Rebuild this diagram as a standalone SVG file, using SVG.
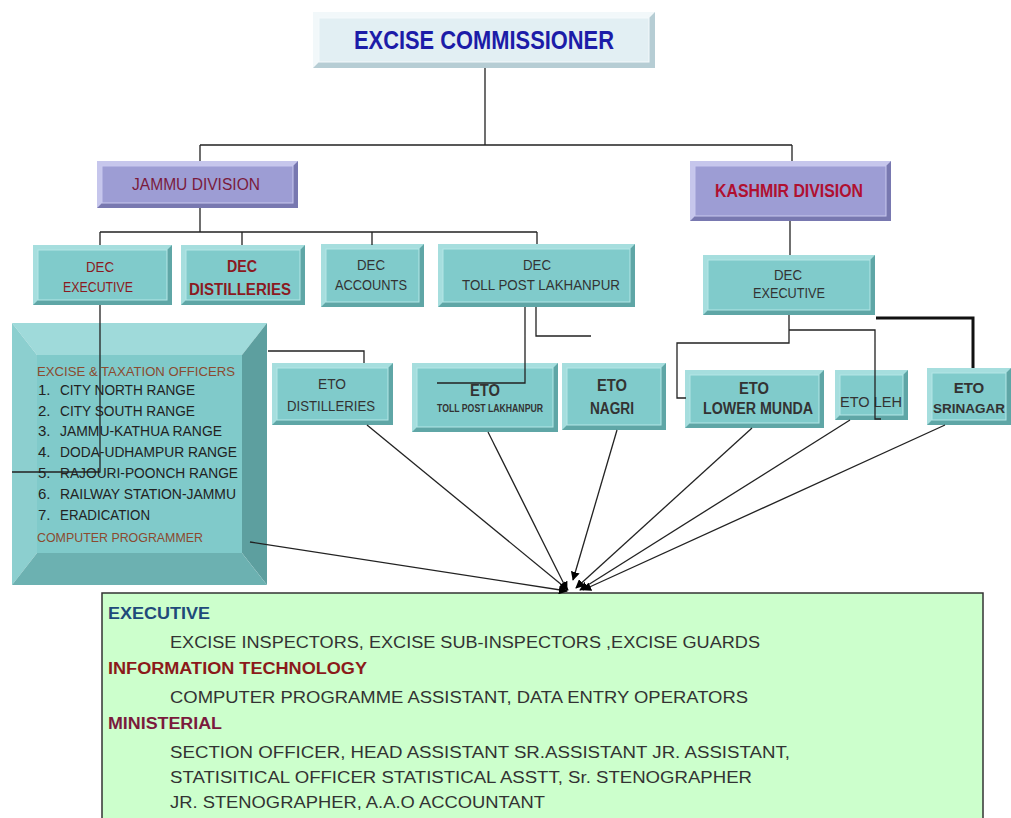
<svg xmlns="http://www.w3.org/2000/svg" width="1011" height="818" viewBox="0 0 1011 818">
<style>
text{font-family:"Liberation Sans",Arial,sans-serif;text-anchor:middle}
.tb{fill:#5fa6a6}.tl{fill:#a6dede}.tf{fill:#80cbcb;stroke:#b4e6e6;stroke-width:1}
.lb{fill:#7878b0}.ll{fill:#c6c6ec}.lf{fill:#9d9dd4;stroke:#c8c8ee;stroke-width:1}
.cb{fill:#b6cdd4}.cl{fill:#f2f8fa}.cf{fill:#e2eff3;stroke:#f4f9fb;stroke-width:1}
.dr{fill:#8b1a22}.dk{fill:#333}.bd{font-weight:bold}
.ln{fill:none;stroke:#222;stroke-width:1.3}
.body{font-size:16px;fill:#333;text-anchor:start}
.lst{font-size:15px;fill:#222;text-anchor:start}
</style>
<defs>
<marker id="ah" viewBox="0 0 10 10" refX="9" refY="5" markerWidth="9" markerHeight="9" markerUnits="userSpaceOnUse" orient="auto">
<path d="M0,0 L10,5 L0,10 z" fill="#000"/>
</marker>
</defs>
<rect width="1011" height="818" fill="#fff"/>

<g id="commissioner">
<rect class="cb" x="313" y="12" width="342" height="56"/>
<polygon class="cl" points="313,12 655,12 649,18 319,18 319,62 313,68"/>
<rect class="cf" x="319" y="18" width="330" height="44"/>
<text x="484" y="49" font-size="26" font-weight="bold" fill="#1c1ca8" textLength="260" lengthAdjust="spacingAndGlyphs">EXCISE COMMISSIONER</text>
</g>

<g id="jammu-division">
<rect class="lb" x="97" y="161" width="201" height="47"/>
<polygon class="ll" points="97,161 298,161 293,166 102,166 102,203 97,208"/>
<rect class="lf" x="102" y="166" width="191" height="37"/>
<text x="196" y="190" font-size="16" fill="#7a1a3c" textLength="128" lengthAdjust="spacingAndGlyphs">JAMMU DIVISION</text>
</g>

<g id="kashmir-division">
<rect class="lb" x="690" y="161" width="201" height="60"/>
<polygon class="ll" points="690,161 891,161 886,166 695,166 695,216 690,221"/>
<rect class="lf" x="695" y="166" width="191" height="50"/>
<text x="789" y="197" font-size="18" font-weight="bold" fill="#b01030" textLength="148" lengthAdjust="spacingAndGlyphs">KASHMIR DIVISION</text>
</g>

<g id="dec-executive-jammu">
<rect class="tb" x="33" y="245" width="139" height="60"/>
<polygon class="tl" points="33,245 172,245 167,250 38,250 38,300 33,305"/>
<rect class="tf" x="38" y="250" width="129" height="50"/>
<text class="dr" x="100" y="272" font-size="14" textLength="28" lengthAdjust="spacingAndGlyphs">DEC</text>
<text class="dr" x="98" y="292" font-size="14" textLength="70" lengthAdjust="spacingAndGlyphs">EXECUTIVE</text>
</g>

<g id="dec-distilleries">
<rect class="tb" x="181" y="245" width="124" height="60"/>
<polygon class="tl" points="181,245 305,245 300,250 186,250 186,300 181,305"/>
<rect class="tf" x="186" y="250" width="114" height="50"/>
<text class="dr bd" x="242" y="272" font-size="16" textLength="30" lengthAdjust="spacingAndGlyphs">DEC</text>
<text class="dr bd" x="240" y="295" font-size="16" textLength="102" lengthAdjust="spacingAndGlyphs">DISTILLERIES</text>
</g>

<g id="dec-accounts">
<rect class="tb" x="321" y="244" width="103" height="63"/>
<polygon class="tl" points="321,244 424,244 419,249 326,249 326,302 321,307"/>
<rect class="tf" x="326" y="249" width="93" height="53"/>
<text class="dk" x="371" y="270" font-size="14" textLength="28" lengthAdjust="spacingAndGlyphs">DEC</text>
<text class="dk" x="371" y="290" font-size="14" textLength="72" lengthAdjust="spacingAndGlyphs">ACCOUNTS</text>
</g>

<g id="dec-toll-post">
<rect class="tb" x="438" y="244" width="197" height="63"/>
<polygon class="tl" points="438,244 635,244 630,249 443,249 443,302 438,307"/>
<rect class="tf" x="443" y="249" width="187" height="53"/>
<text class="dk" x="537" y="270" font-size="14" textLength="28" lengthAdjust="spacingAndGlyphs">DEC</text>
<text class="dk" x="541" y="290" font-size="14" textLength="158" lengthAdjust="spacingAndGlyphs">TOLL POST LAKHANPUR</text>
</g>

<g id="dec-executive-kashmir">
<rect class="tb" x="703" y="255" width="172" height="60"/>
<polygon class="tl" points="703,255 875,255 870,260 708,260 708,310 703,315"/>
<rect class="tf" x="708" y="260" width="162" height="50"/>
<text class="dk" x="788" y="280" font-size="14" textLength="28" lengthAdjust="spacingAndGlyphs">DEC</text>
<text class="dk" x="789" y="298" font-size="14" textLength="72" lengthAdjust="spacingAndGlyphs">EXECUTIVE</text>
</g>

<g id="eto-officers-list">
<polygon points="12,323 267,323 242,355 37,355" fill="#9fdada"/>
<polygon points="12,323 37,355 37,553 12,585" fill="#8ccfcf"/>
<polygon points="267,323 267,585 242,553 242,355" fill="#5d9f9f"/>
<polygon points="12,585 267,585 242,553 37,553" fill="#6cb1b1"/>
<rect x="37" y="355" width="205" height="198" fill="#80caca"/>
<text x="37" y="376" font-size="13" fill="#8b4a30" style="text-anchor:start" textLength="198" lengthAdjust="spacingAndGlyphs">EXCISE &amp; TAXATION OFFICERS</text>
<text class="lst" x="38" y="395">1.</text><text class="lst" x="60" y="395" textLength="135" lengthAdjust="spacingAndGlyphs">CITY NORTH RANGE</text>
<text class="lst" x="38" y="416">2.</text><text class="lst" x="60" y="416" textLength="135" lengthAdjust="spacingAndGlyphs">CITY SOUTH RANGE</text>
<text class="lst" x="38" y="436">3.</text><text class="lst" x="60" y="436" textLength="162" lengthAdjust="spacingAndGlyphs">JAMMU-KATHUA RANGE</text>
<text class="lst" x="38" y="457">4.</text><text class="lst" x="60" y="457" textLength="177" lengthAdjust="spacingAndGlyphs">DODA-UDHAMPUR RANGE</text>
<text class="lst" x="38" y="478">5.</text><text class="lst" x="60" y="478" textLength="178" lengthAdjust="spacingAndGlyphs">RAJOURI-POONCH RANGE</text>
<text class="lst" x="38" y="499">6.</text><text class="lst" x="60" y="499" textLength="176" lengthAdjust="spacingAndGlyphs">RAILWAY STATION-JAMMU</text>
<text class="lst" x="38" y="520">7.</text><text class="lst" x="60" y="520" textLength="90" lengthAdjust="spacingAndGlyphs">ERADICATION</text>
<text x="37" y="542" font-size="13" fill="#8b4a30" style="text-anchor:start" textLength="166" lengthAdjust="spacingAndGlyphs">COMPUTER PROGRAMMER</text>
</g>

<g id="eto-distilleries">
<rect class="tb" x="272" y="363" width="121" height="62"/>
<polygon class="tl" points="272,363 393,363 388,368 277,368 277,420 272,425"/>
<rect class="tf" x="277" y="368" width="111" height="52"/>
<text class="dk" x="332" y="389" font-size="15" textLength="28" lengthAdjust="spacingAndGlyphs">ETO</text>
<text class="dk" x="331" y="411" font-size="15" textLength="88" lengthAdjust="spacingAndGlyphs">DISTILLERIES</text>
</g>

<g id="eto-toll-post">
<rect class="tb" x="412" y="363" width="146" height="69"/>
<polygon class="tl" points="412,363 558,363 553,368 417,368 417,427 412,432"/>
<rect class="tf" x="417" y="368" width="136" height="59"/>
<text class="dk bd" x="485" y="396" font-size="16" textLength="30" lengthAdjust="spacingAndGlyphs">ETO</text>
<text class="dk bd" x="490" y="412" font-size="10" textLength="106" lengthAdjust="spacingAndGlyphs">TOLL POST LAKHANPUR</text>
</g>

<g id="eto-nagri">
<rect class="tb" x="562" y="363" width="104" height="67"/>
<polygon class="tl" points="562,363 666,363 661,368 567,368 567,425 562,430"/>
<rect class="tf" x="567" y="368" width="94" height="57"/>
<text class="dk bd" x="612" y="391" font-size="16" textLength="30" lengthAdjust="spacingAndGlyphs">ETO</text>
<text class="dk bd" x="612" y="414" font-size="16" textLength="44" lengthAdjust="spacingAndGlyphs">NAGRI</text>
</g>

<g id="eto-lower-munda">
<rect class="tb" x="685" y="370" width="139" height="58"/>
<polygon class="tl" points="685,370 824,370 819,375 690,375 690,423 685,428"/>
<rect class="tf" x="690" y="375" width="129" height="48"/>
<text class="dk bd" x="754" y="394" font-size="16" textLength="30" lengthAdjust="spacingAndGlyphs">ETO</text>
<text class="dk bd" x="758" y="414" font-size="16" textLength="110" lengthAdjust="spacingAndGlyphs">LOWER MUNDA</text>
</g>

<g id="eto-leh">
<rect class="tb" x="835" y="370" width="73" height="50"/>
<polygon class="tl" points="835,370 908,370 903,375 840,375 840,415 835,420"/>
<rect class="tf" x="840" y="375" width="63" height="40"/>
<text class="dk" x="871" y="407" font-size="15" textLength="62" lengthAdjust="spacingAndGlyphs">ETO LEH</text>
</g>

<g id="eto-srinagar">
<rect class="tb" x="927" y="368" width="84" height="57"/>
<polygon class="tl" points="927,368 1011,368 1006,373 932,373 932,420 927,425"/>
<rect class="tf" x="932" y="373" width="74" height="47"/>
<text class="dk bd" x="969" y="393" font-size="15">ETO</text>
<text class="dk bd" x="969" y="413" font-size="13.5">SRINAGAR</text>
</g>

<g id="staff-categories">
<rect x="102" y="593" width="881" height="240" fill="#ccffcc" stroke="#333" stroke-width="1.5"/>
<text x="108" y="619" font-size="16" font-weight="bold" fill="#1f4a7a" style="text-anchor:start" textLength="102" lengthAdjust="spacingAndGlyphs">EXECUTIVE</text>
<text class="body" x="170" y="648" textLength="590" lengthAdjust="spacingAndGlyphs">EXCISE INSPECTORS, EXCISE SUB-INSPECTORS ,EXCISE GUARDS</text>
<text x="108" y="674" font-size="16" font-weight="bold" fill="#8b1a1a" style="text-anchor:start" textLength="259" lengthAdjust="spacingAndGlyphs">INFORMATION TECHNOLOGY</text>
<text class="body" x="170" y="703" textLength="578" lengthAdjust="spacingAndGlyphs">COMPUTER PROGRAMME ASSISTANT, DATA ENTRY OPERATORS</text>
<text x="108" y="729" font-size="16" font-weight="bold" fill="#7a1a3c" style="text-anchor:start" textLength="114" lengthAdjust="spacingAndGlyphs">MINISTERIAL</text>
<text class="body" x="170" y="758" textLength="620" lengthAdjust="spacingAndGlyphs">SECTION OFFICER, HEAD ASSISTANT  SR.ASSISTANT  JR. ASSISTANT,</text>
<text class="body" x="170" y="783" textLength="582" lengthAdjust="spacingAndGlyphs">STATISITICAL OFFICER  STATISTICAL ASSTT, Sr. STENOGRAPHER</text>
<text class="body" x="170" y="808" textLength="375" lengthAdjust="spacingAndGlyphs">JR. STENOGRAPHER, A.A.O  ACCOUNTANT</text>
</g>

<g id="connectors">
<path class="ln" d="M485,68 V145 M200,145 H792 M200,145 V161 M792,145 V161"/>
<path class="ln" d="M200,208 V232 M100,232 H537 M100,232 V245 M242,232 V245 M372,232 V245 M537,232 V244"/>
<path class="ln" d="M790,221 V255"/>
<path class="ln" d="M100,305 V472 H12"/>
<path class="ln" d="M268,351 H364 V363"/>
<path class="ln" d="M525,307 V383 H437 M536,307 V336 H591"/>
<path class="ln" d="M789,315 V343 H677 V398 H686 M789,330 H875 V419 H881"/>
<path d="M876,318 H973 V368" fill="none" stroke="#111" stroke-width="3"/>
<g class="ln" marker-end="url(#ah)">
<line x1="250" y1="542" x2="567" y2="591"/>
<line x1="367" y1="425" x2="568" y2="590"/>
<line x1="488" y1="432" x2="567" y2="590"/>
<line x1="617" y1="430" x2="573" y2="580"/>
<line x1="752" y1="428" x2="576" y2="588"/>
<line x1="850" y1="420" x2="580" y2="590"/>
<line x1="945" y1="425" x2="583" y2="590"/>
</g>
</g>
</svg>
